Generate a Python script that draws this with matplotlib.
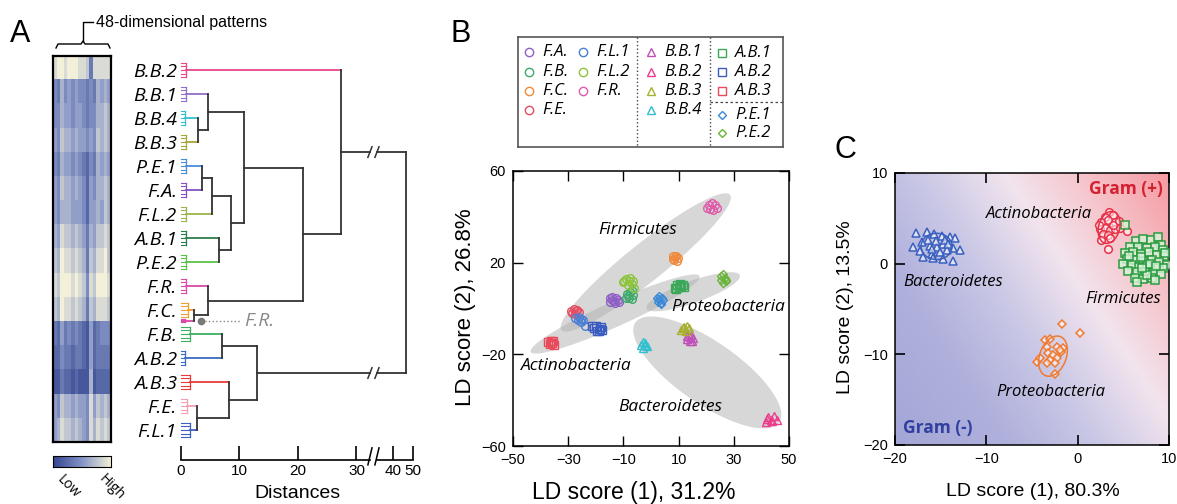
import numpy as np
import matplotlib
matplotlib.use('Agg')
import matplotlib.pyplot as plt
from matplotlib.colors import LinearSegmentedColormap
from matplotlib.patches import Ellipse, Polygon
from matplotlib.lines import Line2D

W, H = 1177, 504
plt.rcParams['font.family'] = ['Liberation Sans', 'DejaVu Sans']
IT = dict(family='Open Sans', style='italic')

# ---------------- panel A : heatmap + dendrogram ----------------
leaf_names = ['B.B.2', 'B.B.1', 'B.B.4', 'B.B.3', 'P.E.1', 'F.A.', 'F.L.2', 'A.B.1',
              'P.E.2', 'F.R.', 'F.C.', 'F.B.', 'A.B.2', 'A.B.3', 'F.E.', 'F.L.1']
# last colour / height belong to the F.R. replicate hidden inside the F.C. cluster
leaf_colors = ['#e8458b', '#9270c8', '#35c0d2', '#a8a838', '#4a8ed8', '#8552c0',
               '#9ab54a', '#2e7d4a', '#5cc04a', '#d94aa8', '#f0a030', '#3cb060',
               '#3a6cc0', '#e83838', '#f2a0b4', '#4060c0', '#d94aa8']
leaf_h = [0.8, 0.9, 0.7, 0.9, 0.8, 0.8, 0.8, 0.9, 0.8, 0.8, 1.2, 1.6, 0.6, 1.5,
          1.0, 1.6, 0.6]
# (child, child, distance); nodes 0-15 leaves, 16 hidden F.R., merges from 17
merges = [(2, 3, 2.9), (1, 17, 4.6), (4, 5, 3.6), (19, 6, 5.3), (7, 8, 6.5),
          (20, 21, 8.6), (18, 22, 10.8), (10, 16, 2.2), (9, 24, 4.6),
          (23, 25, 20.9), (0, 26, 27.4), (11, 12, 7.0), (14, 15, 2.7),
          (13, 29, 8.2), (28, 30, 13.0), (27, 31, 46.5)]
dist_ticks = [0, 10, 20, 30, 40, 50]

# 48-dim response pattern, averaged in 16 blocks of 3 (0 = low, 9 = high)
heat_rows = ['8998999887388888', '4364545443436565', '4465545543446676',
             '5476656554547676', '4365545432436565', '5476656542546676',
             '5466655542556576', '6587767653657787', '7698878763768897',
             '8799989874879998', '7698878763768887', '3253434321523444',
             '2243323321523333', '1132212111612222', '5476656554857676',
             '5687767654868787']

# ---------------- panel B : LDA of strains ----------------
b_names = ['F.A.', 'F.B.', 'F.C.', 'F.E.', 'F.L.1', 'F.L.2', 'F.R.',
           'B.B.1', 'B.B.2', 'B.B.3', 'B.B.4', 'A.B.1', 'A.B.2', 'A.B.3',
           'P.E.1', 'P.E.2']
b_colors = ['#8e5fc4', '#3daa6a', '#f08a3a', '#e84a5f', '#4a7fd4', '#8cc43c',
            '#e05aaa', '#c050b8', '#ec3c8c', '#a8b030', '#30c0d0', '#3aa858',
            '#3a5cc0', '#e84a5a', '#3a8ad8', '#6ab43a']
b_markers = ['o'] * 7 + ['^'] * 4 + ['s'] * 3 + ['D'] * 2
b_points = [
    [(-15.0, 4.5), (-14.0, 5.2), (-12.8, 4.8), (-12.0, 3.8), (-13.5, 3.2), (-14.8, 2.8), (-13.0, 2.2), (-11.5, 3.0), (-14.2, 3.9)],
    [(-8.8, 6.5), (-7.5, 7.0), (-6.5, 6.0), (-9.0, 4.8), (-7.8, 4.5), (-6.8, 4.2), (-8.3, 5.5), (-7.0, 8.0)],
    [(8.0, 22.8), (9.2, 23.0), (9.8, 22.0), (8.5, 21.2), (9.3, 20.8), (8.0, 21.8), (8.8, 22.3)],
    [(-29.0, -1.0), (-28.0, -0.3), (-26.8, -0.6), (-26.2, -1.5), (-27.5, -2.2), (-28.6, -2.0), (-27.2, -1.2)],
    [(-27.5, -4.0), (-26.5, -5.0), (-25.5, -6.0), (-24.5, -5.0), (-26.0, -3.5), (-23.8, -7.5), (-25.2, -4.4)],
    [(-10.2, 11.5), (-9.0, 13.0), (-7.5, 13.5), (-6.5, 12.0), (-7.0, 10.5), (-8.5, 10.2), (-9.8, 12.2), (-6.0, 9.0), (-8.0, 11.8)],
    [(20.2, 43.8), (21.0, 45.0), (22.2, 46.0), (23.3, 45.2), (23.8, 44.0), (22.6, 43.2), (21.4, 43.5)],
    [(13.0, -12.0), (14.5, -11.5), (15.2, -12.8), (14.0, -14.0), (13.2, -13.5), (15.0, -14.2), (14.3, -12.6)],
    [(41.5, -49.5), (42.5, -47.5), (43.5, -48.8), (44.5, -47.0), (45.5, -48.5), (42.0, -48.2), (44.0, -49.2)],
    [(11.0, -9.5), (12.0, -8.0), (13.0, -7.8), (13.8, -8.5), (12.5, -9.8), (11.6, -8.7)],
    [(-3.8, -16.0), (-3.0, -14.8), (-2.0, -15.0), (-1.5, -16.5), (-2.8, -17.2), (-2.3, -15.8)],
    [(8.8, 9.0), (9.5, 10.2), (10.5, 10.8), (11.5, 10.3), (11.8, 9.5), (10.0, 9.2), (9.2, 8.6), (10.8, 9.9)],
    [(-21.5, -7.8), (-20.5, -8.5), (-19.5, -9.8), (-18.5, -9.0), (-18.2, -8.0), (-20.0, -7.5), (-19.0, -10.0), (-17.8, -9.5)],
    [(-37.5, -14.5), (-36.5, -15.5), (-35.5, -14.2), (-35.0, -15.8), (-36.2, -14.0), (-35.8, -15.0)],
    [(2.2, 4.5), (3.0, 5.5), (4.0, 4.8), (4.5, 3.5), (3.5, 2.5), (2.5, 3.0), (3.8, 2.0), (2.8, 4.0)],
    [(25.2, 14.0), (26.0, 15.0), (26.8, 13.2), (27.3, 11.8), (26.2, 11.0), (25.5, 12.5), (27.0, 12.5)],
]
# phylum regions: centre (data), length / width (px), angle (deg on screen)
b_regions = ['Firmicutes', 'Actinobacteria', 'Proteobacteria', 'Bacteroidetes']
b_reg_center = [(-1.9, 20.1), (-13.0, -2.4), (15.3, 7.3), (20.4, -27.9)]
b_reg_size = [(216, 38), (185, 25), (99, 22), (175, 62)]
b_reg_angle = [38.7, 24.2, 19.6, -34.7]
b_reg_label = [(-5.0, 34.2), (-26.9, -25.1), (28.0, 0.8), (6.9, -42.8)]

# ---------------- panel C : LDA of phyla ----------------
c_names = ['Bacteroidetes', 'Actinobacteria', 'Firmicutes', 'Proteobacteria']
c_colors = ['#3a60c0', '#e8324a', '#2a9c40', '#f07a30']
c_markers = ['^', 'o', 's', 'D']
bac_x = [-17.7, -16.5, -15.7, -14.9, -14.0, -13.4, -18.0, -17.3, -16.2, -15.4, -14.7, -13.6, -12.9,
         -16.0, -15.1, -14.3, -16.9, -15.8, -14.7, -13.6, -16.4, -15.5, -14.5, -15.9, -14.2, -17.0]
bac_y = [3.4, 3.5, 3.3, 3.0, 2.9, 2.8, 1.8, 1.4, 2.0, 1.8, 2.2, 1.7, 1.5,
         1.1, 1.3, 1.5, 0.7, 0.6, 0.5, 0.3, 2.6, 2.5, 2.6, 1.6, 2.2, 2.4]
act_x = [3.44, 3.88, 2.97, 2.60, 3.33, 4.06, 4.54, 2.42, 2.97, 3.51, 4.06, 4.61, 2.78, 3.33,
         2.60, 3.51, 3.33, 5.45, 2.35, 3.88]
act_y = [5.70, 5.34, 5.15, 4.60, 4.79, 4.60, 4.71, 3.87, 3.98, 3.68, 3.87, 3.98, 3.32, 3.13,
         2.58, 2.88, 1.59, 3.61, 4.24, 4.24]
fir_x = [5.18, 6.39, 7.19, 7.99, 8.83, 9.09, 5.73, 6.64, 7.55, 8.47, 9.31, 5.18, 6.09, 6.90,
         7.85, 8.65, 9.45, 5.44, 6.28, 7.19, 8.10, 8.94, 9.74, 5.00, 5.91, 6.75, 7.63, 8.47,
         9.31, 5.55, 6.46, 7.37, 8.28, 9.09, 6.28, 7.19, 8.10, 7.63, 6.46, 8.47, 6.90, 7.90,
         8.60, 7.00, 9.60, 5.60]
fir_y = [4.26, 2.50, 2.72, 2.57, 2.98, 2.06, 1.88, 1.88, 1.76, 1.88, 1.51, 1.14, 1.25, 1.03,
         1.25, 0.96, 0.88, 0.51, 0.40, 0.29, 0.40, 0.22, -0.15, -0.07, -0.15, -0.33, -0.22, -0.44,
         -0.51, -0.81, -0.96, -0.88, -1.07, -1.18, -1.54, -1.69, -1.62, -1.25, -1.99, -1.80, 0.70, 0.00,
         -0.30, -0.50, 1.20, 0.90]
pro_x = [-1.7, 0.3, -3.6, -3.05, -3.4, -2.3, -1.6, -1.8, -3.2, -2.7, -2.3, -3.0, -4.5, -4.1,
         -3.4, -2.5, -2.5, -1.95]
pro_y = [-6.6, -7.6, -8.4, -8.36, -9.2, -9.2, -9.35, -9.7, -9.9, -10.1, -10.45, -10.6, -10.9,
         -10.45, -11.0, -11.0, -12.2, -9.55]
c_ell_center = [(-15.45, 1.9), (3.45, 4.0), (-2.7, -10.2)]
c_ell_size = [(3.4, 2.9), (2.3, 3.6), (2.9, 4.6)]
c_ell_angle = [0, -15, -20]
c_lab_pos = [(-13.6, -2.0), (-4.2, 5.5), (5.0, -3.85), (-2.9, -14.2)]


def box(l, t, r, b):
    return [l / W, 1 - b / H, (r - l) / W, (b - t) / H]


def ftext(x, y, s, **kw):
    fig.text(x / W, 1 - y / H, s, **kw)


def fline(xs, ys, **kw):
    fig.add_artist(Line2D([x / W for x in xs], [1 - y / H for y in ys],
                          transform=fig.transFigure, **kw))


fig = plt.figure(figsize=(W / 100, H / 100), dpi=100)

# ---- panel A heatmap
heat_cmap = LinearSegmentedColormap.from_list('hm', ['#35468f', '#8494c6', '#f2f0d8'])
heat = np.array([[int(c) for c in row] for row in heat_rows]) / 9.0
axh = fig.add_axes(box(53, 56, 111, 442))
axh.imshow(heat, cmap=heat_cmap, aspect='auto', interpolation='nearest', vmin=0, vmax=1)
axh.set_xticks([]); axh.set_yticks([])
for s in axh.spines.values():
    s.set_linewidth(1.6)

axc = fig.add_axes(box(53, 456, 111, 467))
axc.imshow(np.linspace(0, 1, 100)[None, :], cmap=heat_cmap, aspect='auto')
axc.set_xticks([]); axc.set_yticks([])
ftext(68, 487, 'Low', rotation=-45, ha='center', va='center', fontsize=10, family='Open Sans')
ftext(112, 487, 'High', rotation=-45, ha='center', va='center', fontsize=10, family='Open Sans')

fline([56, 58, 81, 83, 85, 108, 110], [48, 44, 44, 41, 44, 44, 48], color='k', lw=1)
fline([83, 83, 93], [41, 22, 22], color='k', lw=1)
ftext(96, 22, '48-dimensional patterns', ha='left', va='center', fontsize=11.5)
ftext(20, 34, 'A', ha='center', va='center', fontsize=22)

# ---- panel A dendrogram
GAP0, GAP1 = 32.3, 33.5


def brk(d):
    d = np.asarray(d, dtype=float)
    return np.where(d <= 33, d, 36.24 + (d - 40) * 0.342)


axd = fig.add_axes(box(181, 55, 413, 460))
axd.set_xlim(0, float(brk(50)))
axd.set_ylim(16.25, -0.625)
for s in axd.spines.values():
    s.set_visible(False)
LK = '#333333'


def slash(ax, x, y):
    ax.plot([x - 0.35, x + 0.35], [y + 0.22, y - 0.22], color=LK, lw=1.1, clip_on=False)


def hseg(x0, x1, y, col):
    a, b = float(brk(x0)), float(brk(x1))
    if a < GAP0 and b > GAP1:
        axd.plot([a, GAP0], [y, y], color=col, lw=1.3, clip_on=False)
        axd.plot([GAP1, b], [y, y], color=col, lw=1.3, clip_on=False)
        slash(axd, GAP0, y); slash(axd, GAP1, y)
    else:
        axd.plot([a, b], [y, y], color=col, lw=1.3, clip_on=False)


leaf_y = list(range(16)) + [10.45]
for i in range(17):
    span = 0.3 if i < 16 else 0.07
    ys = leaf_y[i] + np.linspace(-span, span, 5)
    for y in ys:
        axd.plot([0, leaf_h[i]], [y, y], color=leaf_colors[i], lw=0.8, clip_on=False)
    axd.plot([leaf_h[i]] * 2, [ys[0], ys[-1]], color=leaf_colors[i], lw=0.9, clip_on=False)

node_x = list(leaf_h)
node_y = list(leaf_y)
for a, b, d in merges:
    for c in (a, b):
        hseg(node_x[c], d, node_y[c], leaf_colors[c] if c < 17 else LK)
    axd.plot([float(brk(d))] * 2, [node_y[a], node_y[b]], color=LK, lw=1.3, clip_on=False)
    node_x.append(d)
    node_y.append((node_y[a] + node_y[b]) / 2)

# hidden F.R. replicate pointer
axd.plot([float(brk(3.4))], [10.45], 'o', color='#777777', ms=4.5)
axd.plot([float(brk(3.4)), float(brk(10.1))], [10.45, 10.45], ':', color='#888888', lw=1)
axd.text(float(brk(10.8)), 10.45, 'F.R.', color='#888888', fontsize=14, va='center', **IT)

axd.set_yticks(range(16))
axd.set_yticklabels(leaf_names, fontsize=14, **IT)
axd.tick_params(axis='y', length=0, pad=3)
axd.set_xticks(brk(dist_ticks))
axd.set_xticklabels([str(v) for v in dist_ticks])
axd.tick_params(axis='x', direction='in', length=10, width=1.2, labelsize=11, pad=3)
tr = axd.get_xaxis_transform()
axd.plot([0, GAP0], [0, 0], color='k', lw=1.2, transform=tr, clip_on=False)
axd.plot([GAP1, float(brk(50))], [0, 0], color='k', lw=1.2, transform=tr, clip_on=False)
for gx in (GAP0, GAP1):
    axd.plot([gx - 0.35, gx + 0.35], [-0.012, 0.03], color='k', lw=1.1, transform=tr, clip_on=False)
ftext(297, 493, 'Distances', ha='center', va='center', fontsize=14)

# ---- panel B
ftext(461, 34, 'B', ha='center', va='center', fontsize=22)
BL, BT, BR, BB = 513, 171, 789, 446
axb = fig.add_axes(box(BL, BT, BR, BB))
axb.set_xlim(-50, 50); axb.set_ylim(-60, 60)
sx = (BR - BL) / 100.0
sy = (BB - BT) / 120.0
t = np.linspace(0, 2 * np.pi, 200)
for (cx, cy), (L, Wd), ang in zip(b_reg_center, b_reg_size, b_reg_angle):
    a = np.radians(ang)
    u = L / 2 * np.cos(t); v = Wd / 2 * np.sin(t)
    ex = cx + (u * np.cos(a) - v * np.sin(a)) / sx
    ey = cy + (u * np.sin(a) + v * np.cos(a)) / sy
    axb.add_patch(Polygon(np.column_stack([ex, ey]), closed=True, facecolor='#b0b0b0',
                          edgecolor='none', alpha=0.5, zorder=1))
for pts, col, mk in zip(b_points, b_colors, b_markers):
    p = np.array(pts)
    axb.plot(p[:, 0], p[:, 1], ls='none', marker=mk, ms=5.5 if mk != 'D' else 4.5,
             mfc='none', mec=col, mew=1, zorder=3)
for name, (lx, ly) in zip(b_regions, b_reg_label):
    axb.text(lx, ly, name, ha='center', va='center', fontsize=12.5, zorder=4, **IT)
axb.set_xticks([-50, -30, -10, 10, 30, 50])
axb.set_yticks([-60, -20, 20, 60])
axb.tick_params(direction='in', length=7, width=1, top=True, right=True, labelsize=10.5, pad=5)
for s in axb.spines.values():
    s.set_linewidth(1.1)
ftext(465, 307, 'LD score (2), 26.8%', rotation=90, ha='center', va='center', fontsize=16)
ftext(634, 492, 'LD score (1), 31.2%', ha='center', va='center', fontsize=16.5)

# legend box
axl = fig.add_axes(box(518, 37, 783, 147))
axl.set_xlim(0, 265); axl.set_ylim(110, 0)
axl.set_xticks([]); axl.set_yticks([])
for s in axl.spines.values():
    s.set_linewidth(1.2); s.set_color('#555555')
col_x = [11, 11, 11, 11, 65, 65, 65, 133, 133, 133, 133, 204, 204, 204, 204, 204]
row_y = [15, 35, 54, 73, 15, 35, 54, 15, 35, 54, 73, 16, 35, 54, 78, 96]
for name, col, mk, lx, ly in zip(b_names, b_colors, b_markers, col_x, row_y):
    axl.plot(lx, ly, ls='none', marker=mk, ms=6 if mk != 'D' else 4.5, mfc='none', mec=col, mew=1)
    axl.text(lx + 13, ly, name, va='center', ha='left', fontsize=12, **IT)
axl.plot([119, 119], [0, 110], ':', color='#444444', lw=1)
axl.plot([192, 192], [0, 110], ':', color='#444444', lw=1)
axl.plot([192, 265], [65, 65], '--', color='#444444', lw=0.9, dashes=(2, 2))

# ---- panel C
ftext(845, 150, 'C', ha='center', va='center', fontsize=22)
axg = fig.add_axes(box(895, 173, 1169, 445))
axg.set_xlim(-20, 10); axg.set_ylim(-20, 10)
gx, gy = np.meshgrid(np.linspace(-20, 10, 200), np.linspace(-20, 10, 200))
grad = (27 * gx + 18 * gy + 900) / 1350.0
bg_cmap = LinearSegmentedColormap.from_list(
    'bg', [(0, '#a4a6d6'), (0.25, '#afb0dc'), (0.45, '#cac8e6'), (0.64, '#f2e4ee'),
           (0.8, '#f6c6cc'), (1.0, '#f59aa2')])
axg.imshow(grad, extent=(-20, 10, -20, 10), origin='lower', cmap=bg_cmap, aspect='auto',
           vmin=0, vmax=1, zorder=0, interpolation='bilinear')
face = (1, 1, 1, 0.55)
for xs, ys, col, mk in zip([bac_x, act_x, fir_x, pro_x], [bac_y, act_y, fir_y, pro_y],
                           c_colors, c_markers):
    axg.plot(xs, ys, ls='none', marker=mk, ms=5.5 if mk != 'D' else 4.3,
             mfc=face if mk != 's' else (0.85, 0.95, 0.85, 0.8),
             mec=col, mew=1.1, zorder=3)
for (cx, cy), (ew, eh), ang, col in zip(c_ell_center, c_ell_size, c_ell_angle,
                                        [c_colors[0], c_colors[1], c_colors[3]]):
    axg.add_patch(Ellipse((cx, cy), ew, eh, angle=ang, fill=False, edgecolor=col, lw=1.1, zorder=4))
for name, (lx, ly) in zip(c_names, c_lab_pos):
    axg.text(lx, ly, name, ha='center', va='center', fontsize=12, zorder=5, **IT)
axg.text(5.3, 8.2, 'Gram (+)', color='#d42030', fontsize=12.5, fontweight='bold',
         family='Open Sans', ha='center', va='center')
axg.text(-15.3, -18.1, 'Gram (-)', color='#3040a0', fontsize=12.5, fontweight='bold',
         family='Open Sans', ha='center', va='center')
axg.set_xticks([-20, -10, 0, 10])
axg.set_yticks([-20, -10, 0, 10])
axg.tick_params(direction='in', length=7, width=1.2, top=True, right=True, labelsize=10.5, pad=5)
for s in axg.spines.values():
    s.set_linewidth(1.1)
ftext(845, 307, 'LD score (2), 13.5%', rotation=90, ha='center', va='center', fontsize=14)
ftext(1033, 492, 'LD score (1), 80.3%', ha='center', va='center', fontsize=14)

fig.savefig('out.png', dpi=100)
